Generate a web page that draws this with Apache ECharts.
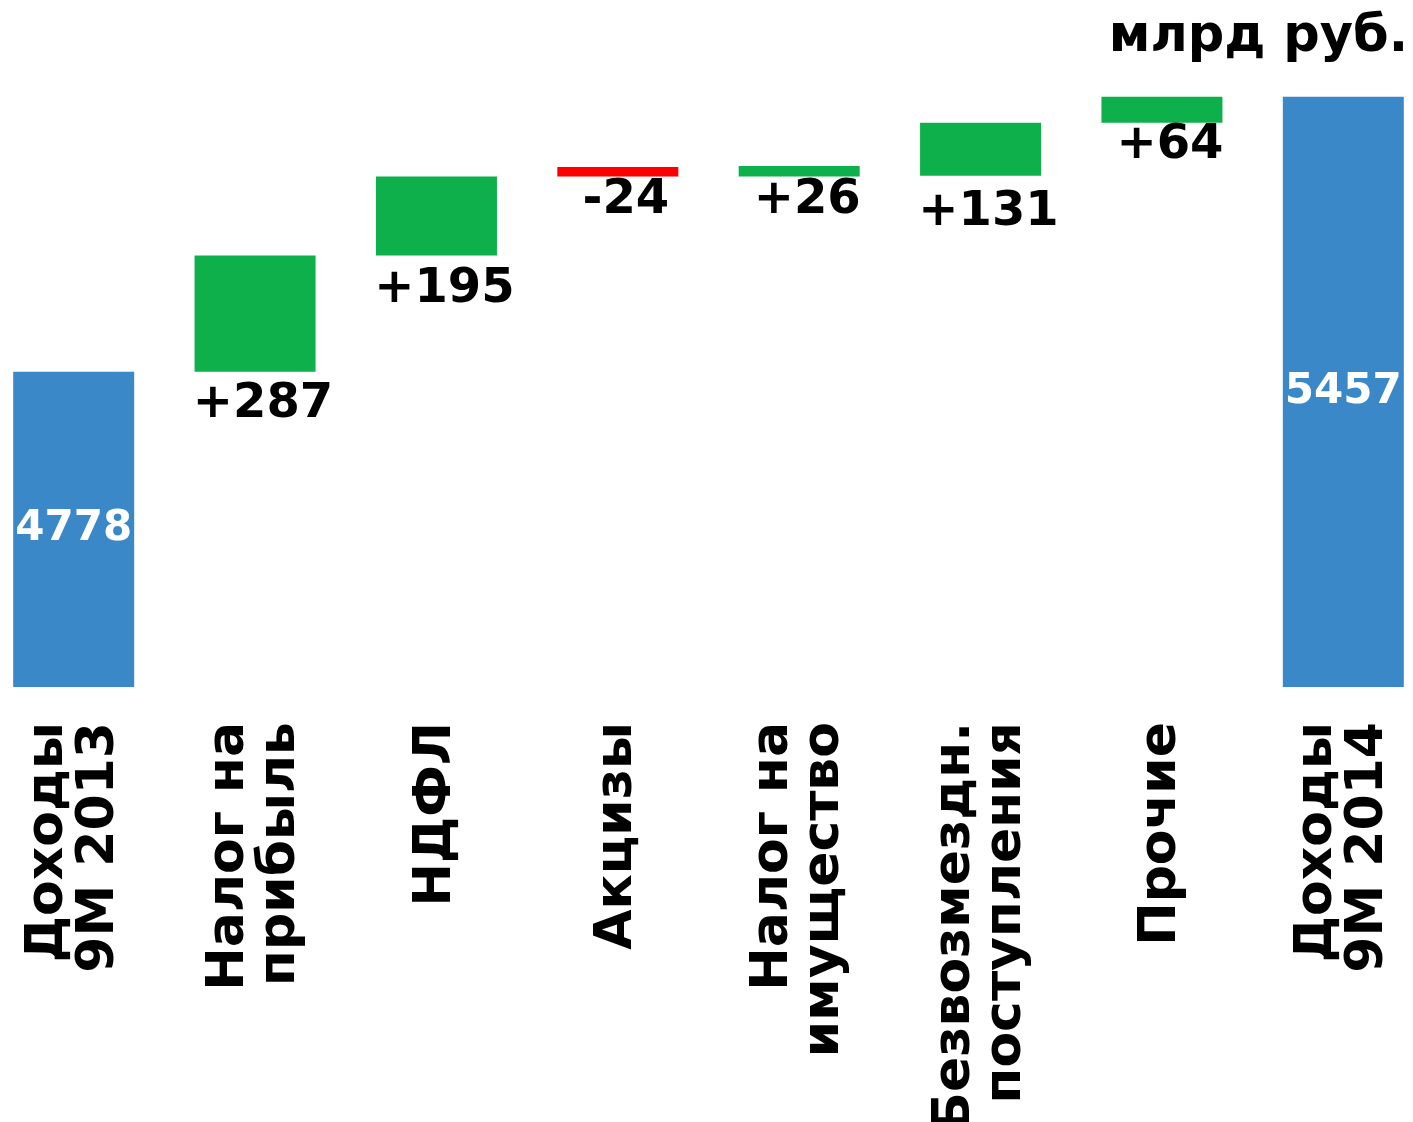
<!DOCTYPE html>
<html>
<head>
<meta charset="utf-8">
<script src="https://cdn.jsdelivr.net/npm/echarts@6/dist/echarts.min.js"></script>
<style>
html,body{margin:0;padding:0;background:#fff;}
#chart{width:1413px;height:1122px;}
</style>
</head>
<body>
<div id="chart"></div>
<script>
// ---- data ----
const categories = ['Доходы\n9М 2013', 'Налог на\nприбыль', 'НДФЛ', 'Акцизы', 'Налог на\nимущество', 'Безвозмездн.\nпоступления', 'Прочие', 'Доходы\n9М 2014'];
const values = [4778, 287, 195, -24, 26, 131, 64, 5457];
const kinds = ['total', 'delta', 'delta', 'delta', 'delta', 'delta', 'delta', 'total'];
// lower edge of each floating bar as drawn in the picture (totals start at the axis minimum)
const barLow = [null, 4778, 5065, 5260, 5260, 5262, 5393, null];
const valueLabels = ['4778', '+287', '+195', '-24', '+26', '+131', '+64', '5457'];
const unitText = 'млрд руб.';

// ---- layout / style ----
const Y_MIN = 4000, Y_MAX = 5696;
const FONT = '"DejaVu Sans", Verdana, sans-serif';
const C_TOTAL = '#3b88c9', C_UP = '#0db04b', C_DOWN = '#ff0000';
const labelDist = [0, 9, 10, 0, 0, 13, -1, 0];

const base = barLow.map((v) => v === null ? Y_MIN : v);
const heights = values.map((v, i) => kinds[i] === 'total' ? v - Y_MIN : Math.abs(v));

const visible = heights.map((h, i) => {
  const isTotal = kinds[i] === 'total';
  return {
    value: h,
    itemStyle: { color: isTotal ? C_TOTAL : (values[i] < 0 ? C_DOWN : C_UP) },
    label: isTotal ? {
      show: true, position: 'inside', color: '#ffffff', fontSize: 42, fontWeight: 'bold', fontFamily: FONT
    } : {
      show: true, position: 'bottom', distance: labelDist[i], padding: [0, 0, 0, 16],
      color: '#000000', fontSize: 48, fontWeight: 'bold', fontFamily: FONT
    }
  };
});

const chart = echarts.init(document.getElementById('chart'), null, { renderer: 'canvas' });
chart.setOption({
  animation: false,
  backgroundColor: '#ffffff',
  title: {
    text: unitText, right: 0, top: 7,
    textStyle: { fontSize: 51, fontWeight: 'bold', fontFamily: FONT, color: '#000' }
  },
  grid: { left: -17, width: 1451, top: 0, height: 687, outerBoundsMode: 'none', containLabel: false },
  xAxis: {
    type: 'category', data: categories,
    axisLine: { show: false }, axisTick: { show: false },
    axisLabel: {
      interval: 0, rotate: 90, margin: 35,
      fontSize: 52, lineHeight: 51, fontWeight: 'bold', fontFamily: FONT, color: '#000'
    }
  },
  yAxis: { type: 'value', min: Y_MIN, max: Y_MAX, show: false, splitLine: { show: false } },
  series: [
    { type: 'bar', stack: 'w', data: base, barWidth: 121, itemStyle: { color: 'transparent' }, silent: true },
    {
      type: 'bar', stack: 'w', data: visible, barWidth: 121,
      labelLayout: { hideOverlap: false },
      label: { formatter: (p) => valueLabels[p.dataIndex] }
    }
  ]
});
</script>
</body>
</html>
